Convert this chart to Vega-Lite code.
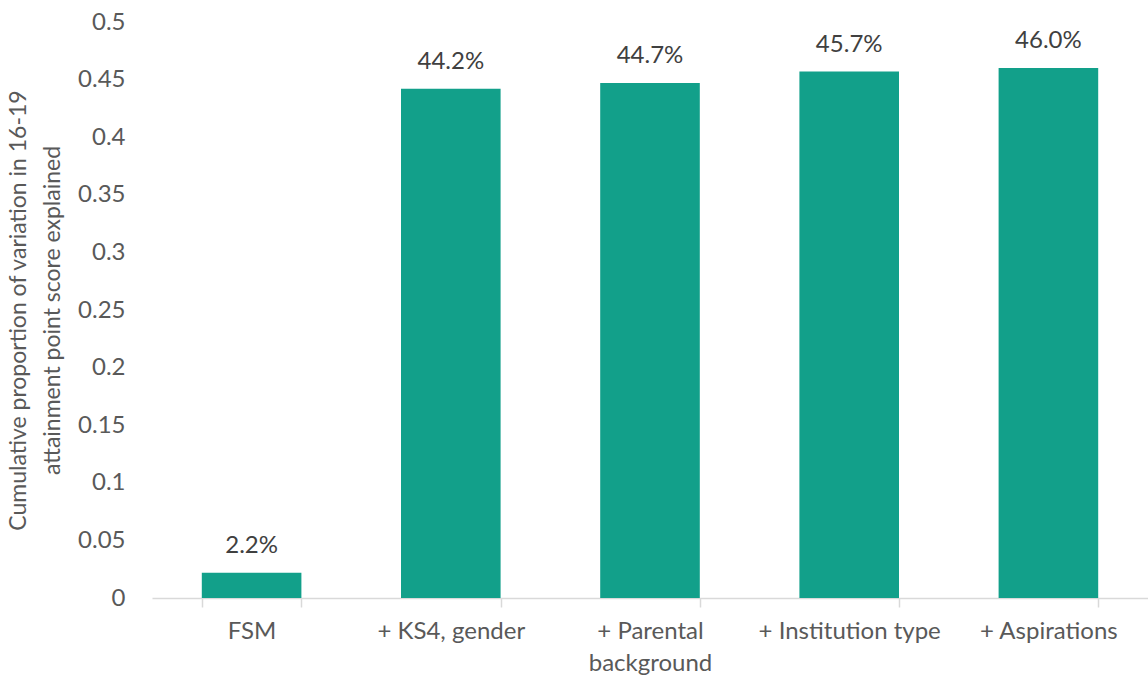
{
  "$schema": "https://vega.github.io/schema/vega-lite/v6.json",
  "width": 996,
  "height": 576,
  "autosize": "none",
  "padding": {"left": 152, "top": 22, "right": 0, "bottom": 81},
  "background": "white",
  "config": {"view": {"stroke": null}, "font": "Lato"},
  "data": {"values": [
    {"step": "FSM", "value": 0.022},
    {"step": "+ KS4, gender", "value": 0.442},
    {"step": "+ Parental background", "value": 0.447},
    {"step": "+ Institution type", "value": 0.457},
    {"step": "+ Aspirations", "value": 0.460}
  ]},
  "encoding": {
    "x": {"field": "step", "type": "nominal", "sort": null,
      "scale": {"paddingInner": 0.5, "paddingOuter": 0.25},
      "axis": {"title": null, "labelAngle": 0, "labelFontSize": 24, "labelColor": "#595959",
        "labelPadding": 12, "labelLineHeight": 32, "labelLimit": 0,
        "labelExpr": "datum.value == '+ Parental background' ? ['+ Parental', 'background'] : datum.value",
        "tickBand": "extent", "tickSize": 9, "tickColor": "#d9d9d9", "domainColor": "#d9d9d9", "domainWidth": 1.5, "tickWidth": 1.5}},
    "y": {"field": "value", "type": "quantitative",
      "scale": {"domain": [0, 0.5]},
      "axis": {"values": [0, 0.05, 0.1, 0.15, 0.2, 0.25, 0.3, 0.35, 0.4, 0.45, 0.5], "format": "~g",
        "grid": false, "domain": false, "ticks": false, "labelFontSize": 24, "labelColor": "#595959", "labelPadding": 27,
        "title": ["Cumulative proportion of variation in 16-19", "attainment point score explained"],
        "titleFontSize": 23, "titleFontWeight": "normal", "titleColor": "#595959", "titlePadding": 13, "titleLineHeight": 34}}
  },
  "layer": [
    {"mark": {"type": "bar", "color": "#12A08A"}},
    {"mark": {"type": "text", "dy": -27, "fontSize": 24, "color": "#404040"},
     "encoding": {"text": {"field": "value", "type": "quantitative", "format": ".1%"}}}
  ]
}
